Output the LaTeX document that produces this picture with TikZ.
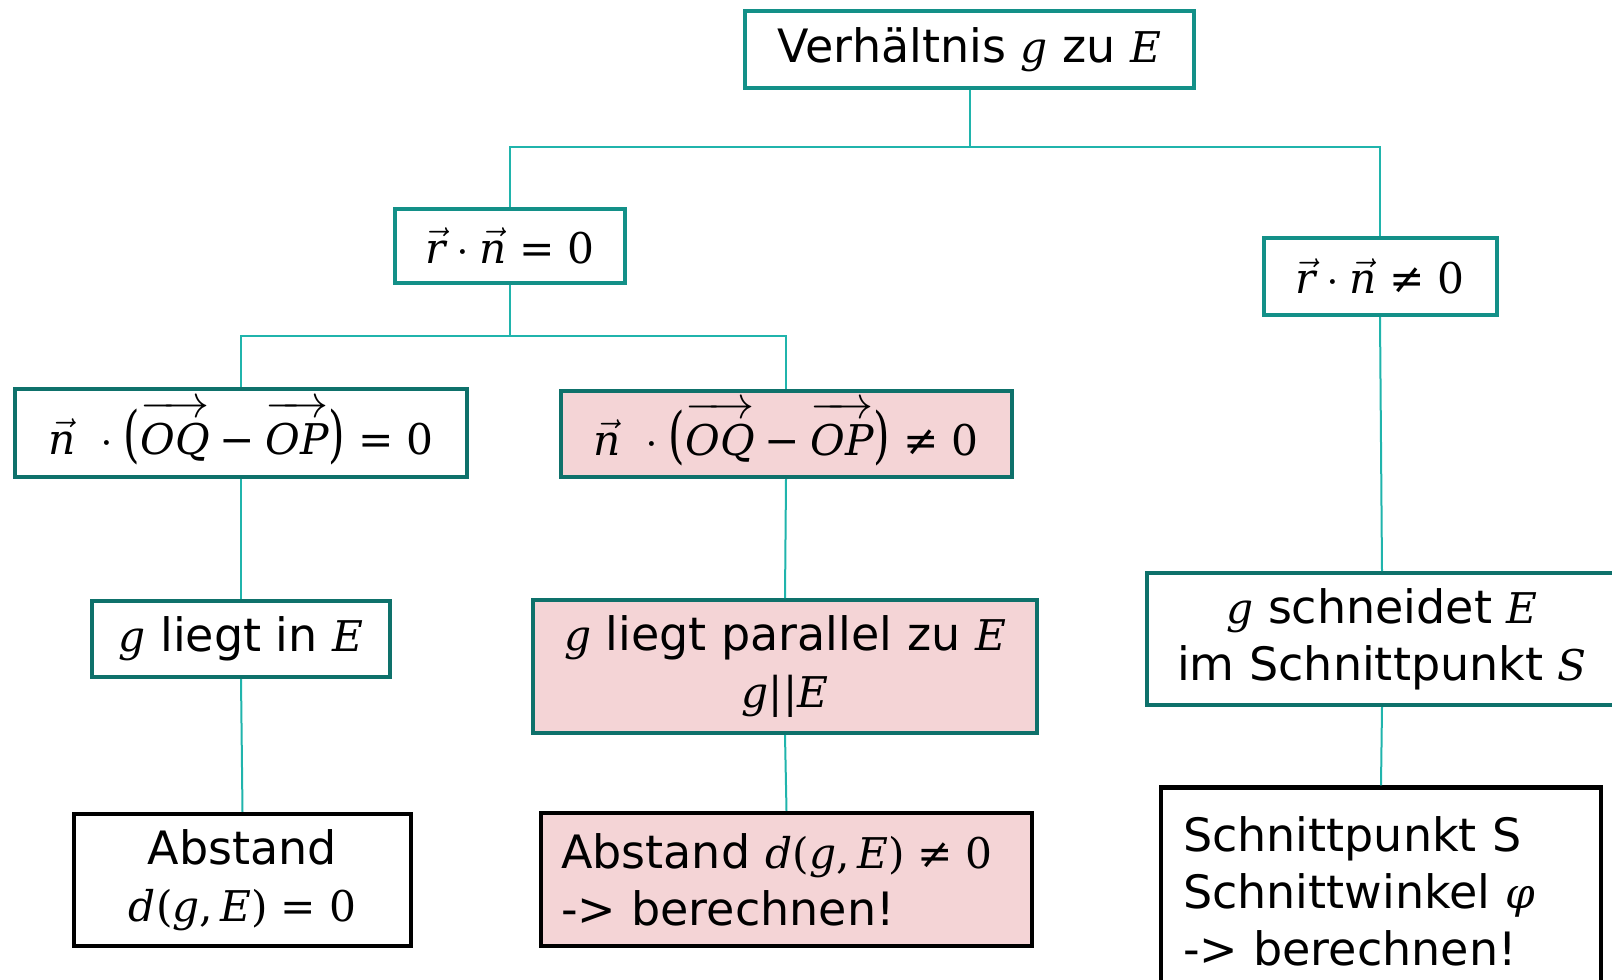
\RequirePackage{fix-cm}
\documentclass[tikz,border=0pt]{standalone}
\usepackage{amsmath}
\usepackage{graphicx}
\usepackage[no-math]{fontspec}
\setmainfont{DejaVu Sans}
\newfontfamily\mfont[Scale=0.92]{DejaVu Serif}
% serif letters and symbols used inside formulas
\newcommand{\mvar}[1]{\text{\mfont\itshape #1}}
\newcommand{\mupr}[1]{\text{\mfont #1}}
\newcommand{\bigpar}[1]{\raisebox{-0.04em}{\scalebox{1}[1.45]{\mupr{#1}}}}
\newcommand{\ovec}[1]{\overrightarrow{\rule{0pt}{0.8em}\mvar{#1}}}
\definecolor{tealA}{RGB}{19,144,136}
\definecolor{tealB}{RGB}{14,113,107}
\definecolor{linkc}{RGB}{32,180,172}
\definecolor{pinkfill}{RGB}{244,212,214}
\begin{document}
\begin{tikzpicture}[x=1pt,y=-1pt,
  box/.style={draw=tealB, line width=4pt, fill=white, inner sep=0pt,
    align=center, font=\fontsize{46}{57}\selectfont},
  boxtop/.style={box, draw=tealA},
  boxpink/.style={box, fill=pinkfill},
  boxres/.style={box, draw=black, line width=4.5pt},
  link/.style={draw=linkc, line width=2pt}]
\useasboundingbox (0,0) rectangle (1612,980);
\clip (0,0) rectangle (1612,980);

% decision tree boxes
\node[boxtop, minimum width=449pt, minimum height=77pt] (top) at (969.5,49.5)
  {Verhältnis $\mvar{g}$ zu $\mvar{E}$};
\node[boxtop, minimum width=230pt, minimum height=74pt] (rn0) at (510,246)
  {$\vec{\mvar{r}}\cdot\vec{\mvar{n}}\mathrel{\mupr{=}}\mupr{0}$};
\node[boxtop, minimum width=233pt, minimum height=77pt] (rnn) at (1380,276.5)
  {$\vec{\mvar{r}}\cdot\vec{\mvar{n}}\mathrel{\mupr{≠}}\mupr{0}$};
\node[box, minimum width=452pt, minimum height=88pt] (lin0) at (241,433)
  {$\vec{\mvar{n}}\ \cdot\mathopen{\bigpar{(}}\ovec{OQ}\mathbin{\mupr{−}}\ovec{OP}\mathclose{\bigpar{)}}\mathrel{\mupr{=}}\mupr{0}$};
\node[boxpink, minimum width=451pt, minimum height=86pt] (linn) at (786,434)
  {$\vec{\mvar{n}}\ \cdot\mathopen{\bigpar{(}}\ovec{OQ}\mathbin{\mupr{−}}\ovec{OP}\mathclose{\bigpar{)}}\mathrel{\mupr{≠}}\mupr{0}$};
\node[box, minimum width=298pt, minimum height=76pt] (gin) at (241,639)
  {$\mvar{g}$ liegt in $\mvar{E}$};
\node[boxpink, minimum width=504pt, minimum height=133pt] (gpar) at (785,666.5)
  {$\mvar{g}$ liegt parallel zu $\mvar{E}$\\$\mvar{g}\mupr{||}\mvar{E}$};
\node[box, minimum width=470pt, minimum height=132pt] (gsch) at (1382,639)
  {$\mvar{g}$ schneidet $\mvar{E}$\\im Schnittpunkt $\mvar{S}$};
\node[boxres, minimum width=337pt, minimum height=132pt] (abs0) at (242.5,880)
  {Abstand\\$\mvar{d}\mupr{(}\mvar{g}\mupr{,}\,\mvar{E}\mupr{)}\mathrel{\mupr{=}}\mupr{0}$};
\node[boxres, boxpink, draw=black, line width=4.5pt, minimum width=491pt,
  minimum height=133pt, text width=451pt, align=left] (absn) at (786.5,879.5)
  {Abstand $\mvar{d}\mupr{(}\mvar{g}\mupr{,}\,\mvar{E}\mupr{)}\mathrel{\mupr{≠}}\mupr{0}$\\-> berechnen!};
\node[boxres, minimum width=440pt, minimum height=207pt, text width=396pt,
  align=left] (schn) at (1381,891)
  {Schnittpunkt S\\Schnittwinkel $\mvar{φ}$\\-> berechnen!};

% branch junctions
\coordinate (j1) at (969.5,147);
\coordinate (j2) at (510,336);

% connectors
\draw[link] (top.south) -- (j1) -| (rn0.north);
\draw[link] (j1) -| (rnn.north);
\draw[link] (rn0.south) -- (j2) -| (lin0.north);
\draw[link] (j2) -| (linn.north);
\draw[link] (lin0.south) -- (gin.north);
\draw[link] (gin.south) -- (abs0.north);
\draw[link] (linn.south) -- (gpar.north);
\draw[link] (gpar.south) -- (absn.north);
\draw[link] (rnn.south) -- (gsch.north);
\draw[link] (gsch.south) -- (schn.north);
\end{tikzpicture}
\end{document}
